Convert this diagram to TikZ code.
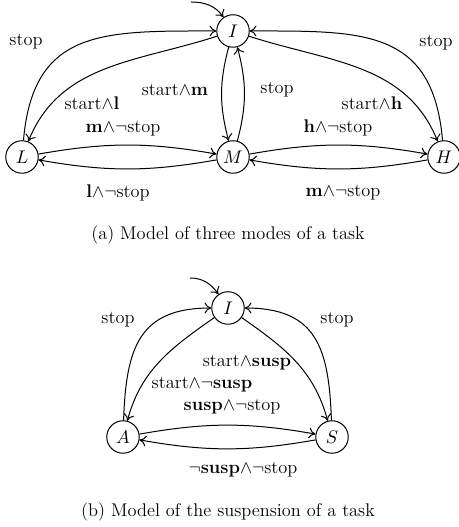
\documentclass[tikz,border=0pt]{standalone}
\usetikzlibrary{arrows.meta}
\tikzset{
  modestate/.style={circle, draw, semithick, minimum size=19.5pt, inner sep=0pt},
  trans/.style={-{To[length=4pt,width=6.5pt]}, semithick},
}
\newcommand{\conj}{\ensuremath{\wedge}}
\newcommand{\negt}{\ensuremath{\neg}}
\begin{document}
\begin{tikzpicture}[x=0.6pt, y=0.6pt, font=\fontsize{11}{13}\selectfont]
        \useasboundingbox (0,0) rectangle (458,527);
        % (a) three modes of a task
        \node[modestate] (I) at (233, 496) {$I$};
        \node[modestate] (L) at ( 22, 370) {$L$};
        \node[modestate] (M) at (233, 370) {$M$};
        \node[modestate] (H) at (444, 370) {$H$};
        \coordinate (initA) at (191, 525);
        \draw[trans] (initA) to[out=0, in=125] (I);
        \draw[trans] (L) to[out=85, in=180, looseness=1.3] (I);
        \draw[trans] (I) to[out=198, in=68] (L);
        \draw[trans] (I) to[bend right=15] (M);
        \draw[trans] (M) to[bend right=15] (I);
        \draw[trans] (I) to[out=-18, in=112] (H);
        \draw[trans] (H) to[out=95, in=0, looseness=1.3] (I);
        \draw[trans] (L) to[bend left=10] (M);
        \draw[trans] (M) to[bend left=10] (L);
        \draw[trans] (M) to[bend left=10] (H);
        \draw[trans] (H) to[bend left=10] (M);
        \node (stopLI) at ( 26, 485) {stop};
        \node (startL) at ( 92, 424) {start\conj\textbf{l}};
        \node (startM) at (175, 437) {start\conj\textbf{m}};
        \node (stopMI) at (277, 437) {stop};
        \node (startH) at (372, 424) {start\conj\textbf{h}};
        \node (stopHI) at (436, 484) {stop};
        \node (lblLM)  at (123, 398) {\textbf{m}\conj\negt stop};
        \node (lblMH)  at (338, 399) {\textbf{h}\conj\negt stop};
        \node (lblML)  at (118, 334) {\textbf{l}\conj\negt stop};
        \node (lblHM)  at (343, 334) {\textbf{m}\conj\negt stop};
        \node (capA)   at (228, 292) {(a) Model of three modes of a task};
        % (b) suspension of a task
        \node[modestate] (I2) at (228, 219) {$I$};
        \node[modestate] (A)  at (123,  90) {$A$};
        \node[modestate] (S)  at (332,  90) {$S$};
        \coordinate (initB) at (190, 249);
        \draw[trans] (initB) to[out=0, in=125] (I2);
        \draw[trans] (A) to[out=88, in=180, looseness=1.3] (I2);
        \draw[trans] (S) to[out=92, in=0, looseness=1.3] (I2);
        \draw[trans] (I2) to[out=215, in=75] (A);
        \draw[trans] (I2) to[out=-35, in=105] (S);
        \draw[trans] (A) to[bend left=10] (S);
        \draw[trans] (S) to[bend left=10] (A);
        \node (stopAI) at (118, 207) {stop};
        \node (stopSI) at (337, 207) {stop};
        \node (startS) at (247, 164) {start\conj\textbf{susp}};
        \node (startA) at (202, 142) {start\conj\negt\textbf{susp}};
        \node (lblAS)  at (232, 120) {\textbf{susp}\conj\negt stop};
        \node (lblSA)  at (243,  57) {\negt\textbf{susp}\conj\negt stop};
        \node (capB)   at (228,  15) {(b) Model of the suspension of a task};
\end{tikzpicture}
\end{document}
